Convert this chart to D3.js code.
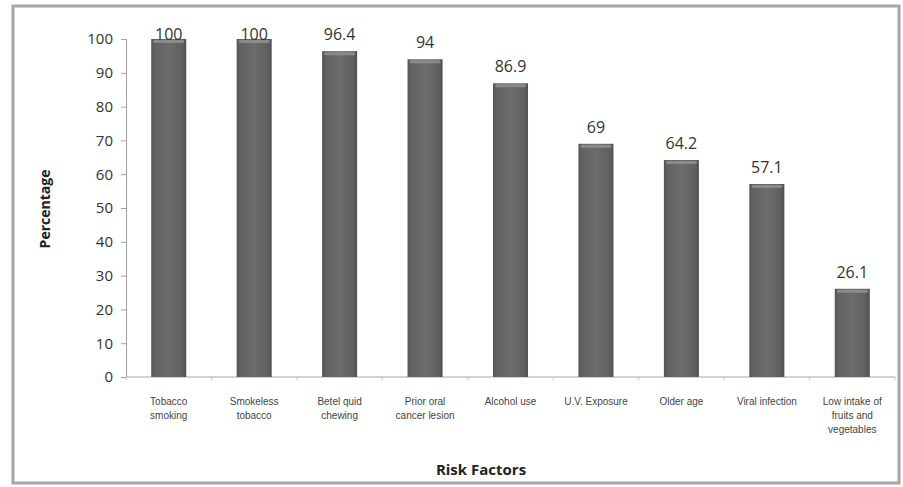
<!DOCTYPE html>
<html>
<head>
<meta charset="utf-8">
<script src="https://cdn.jsdelivr.net/npm/d3@7"></script>
<style>
  html, body { margin: 0; padding: 0; background: #fff; }
  svg { display: block; }
</style>
</head>
<body>
<svg id="chart" width="903" height="487"></svg>
<script>
// Risk factor shares (percentage of cases)
const categories = [
  ["Tobacco", "smoking"],
  ["Smokeless", "tobacco"],
  ["Betel quid", "chewing"],
  ["Prior oral", "cancer lesion"],
  ["Alcohol use"],
  ["U.V. Exposure"],
  ["Older age"],
  ["Viral infection"],
  ["Low intake of", "fruits and", "vegetables"]
];
const values = [100, 100, 96.4, 94, 86.9, 69, 64.2, 57.1, 26.1];
const yTicks = [0, 10, 20, 30, 40, 50, 60, 70, 80, 90, 100];

const svg = d3.select("#chart");
const plot = { left: 126, right: 895, top: 39, bottom: 377 };

// Outer frame
svg.append("rect")
  .attr("x", 13).attr("y", 6)
  .attr("width", 886).attr("height", 477)
  .attr("fill", "#fff")
  .attr("stroke", "#a6a6a6")
  .attr("stroke-width", 3);

const keys = categories.map((c, i) => i);
const x = d3.scaleBand().domain(keys).range([plot.left, plot.right]).paddingInner(0.59).paddingOuter(0.295);
const xCat = d3.scaleBand().domain(keys).range([plot.left, plot.right]);
const y = d3.scaleLinear().domain([0, 100]).range([plot.bottom, plot.top]);

// Bar shading
const defs = svg.append("defs");
const grad = defs.append("linearGradient").attr("id", "barGrad")
  .attr("x1", "0%").attr("x2", "100%").attr("y1", "0%").attr("y2", "0%");
grad.append("stop").attr("offset", "0%").attr("stop-color", "#555");
grad.append("stop").attr("offset", "12%").attr("stop-color", "#626262");
grad.append("stop").attr("offset", "50%").attr("stop-color", "#6c6c6c");
grad.append("stop").attr("offset", "88%").attr("stop-color", "#606060");
grad.append("stop").attr("offset", "100%").attr("stop-color", "#505050");

// Y axis
const yAxis = d3.axisLeft(y).tickValues(yTicks).tickSize(5).tickPadding(8);
const gy = svg.append("g").attr("transform", `translate(${plot.left},0)`).call(yAxis);
gy.select(".domain").attr("stroke", "#a0a0a0");
gy.selectAll(".tick line").attr("stroke", "#a0a0a0");
gy.selectAll(".tick text")
  .attr("font-family", "'Open Sans', 'DejaVu Sans', sans-serif")
  .attr("font-size", 15).attr("fill", "#333");

// X axis line with category separators
const gx = svg.append("g").attr("transform", `translate(0,${plot.bottom})`);
gx.append("line").attr("x1", plot.left).attr("x2", plot.right)
  .attr("stroke", "#a8a8a8").attr("stroke-width", 1.2);
gx.selectAll("line.sep").data(keys.concat([keys.length]))
  .enter().append("line").attr("class", "sep")
  .attr("x1", d => plot.left + d * xCat.bandwidth())
  .attr("x2", d => plot.left + d * xCat.bandwidth())
  .attr("y1", 0).attr("y2", 3)
  .attr("stroke", "#c4c4c4");

// Bars
const bars = svg.append("g");
bars.selectAll("rect.bar").data(values).enter().append("rect")
  .attr("class", "bar")
  .attr("x", (d, i) => x(i))
  .attr("y", d => y(d))
  .attr("width", x.bandwidth())
  .attr("height", d => y(0) - y(d))
  .attr("fill", "url(#barGrad)");
// lighter top cap
bars.selectAll("rect.cap").data(values).enter().append("rect")
  .attr("class", "cap")
  .attr("x", (d, i) => x(i) + 2)
  .attr("y", d => y(d) + 1)
  .attr("width", x.bandwidth() - 4)
  .attr("height", 3)
  .attr("rx", 1.5)
  .attr("fill", "#8a8a8a");

// Value labels
svg.append("g").selectAll("text").data(values).enter().append("text")
  .attr("x", (d, i) => x(i) + x.bandwidth() / 2)
  .attr("y", d => Math.max(y(d) - 11, 40))
  .attr("text-anchor", "middle")
  .attr("font-family", "'Open Sans', 'DejaVu Sans', sans-serif")
  .attr("font-size", 16).attr("fill", "#333")
  .text(d => d);

// Category labels
const cl = svg.append("g").selectAll("text").data(categories).enter().append("text")
  .attr("text-anchor", "middle")
  .attr("font-family", "'Liberation Sans', Arial, sans-serif")
  .attr("font-size", 10).attr("fill", "#444")
  .attr("transform", (d, i) => `translate(${xCat(i) + xCat.bandwidth() / 2},${405})`);
cl.selectAll("tspan").data(d => d).enter().append("tspan")
  .attr("x", 0).attr("y", (d, j) => j * 14)
  .text(d => d);

// Axis titles
svg.append("text")
  .attr("x", 481).attr("y", 475)
  .attr("text-anchor", "middle")
  .attr("font-family", "'Open Sans', 'DejaVu Sans', sans-serif")
  .attr("font-weight", "bold").attr("font-size", 15).attr("fill", "#222")
  .text("Risk Factors");
svg.append("text")
  .attr("transform", "translate(50,209) rotate(-90)")
  .attr("text-anchor", "middle")
  .attr("font-family", "'Open Sans', 'DejaVu Sans', sans-serif")
  .attr("font-weight", "bold").attr("font-size", 14).attr("fill", "#222")
  .text("Percentage");
</script>
</body>
</html>
